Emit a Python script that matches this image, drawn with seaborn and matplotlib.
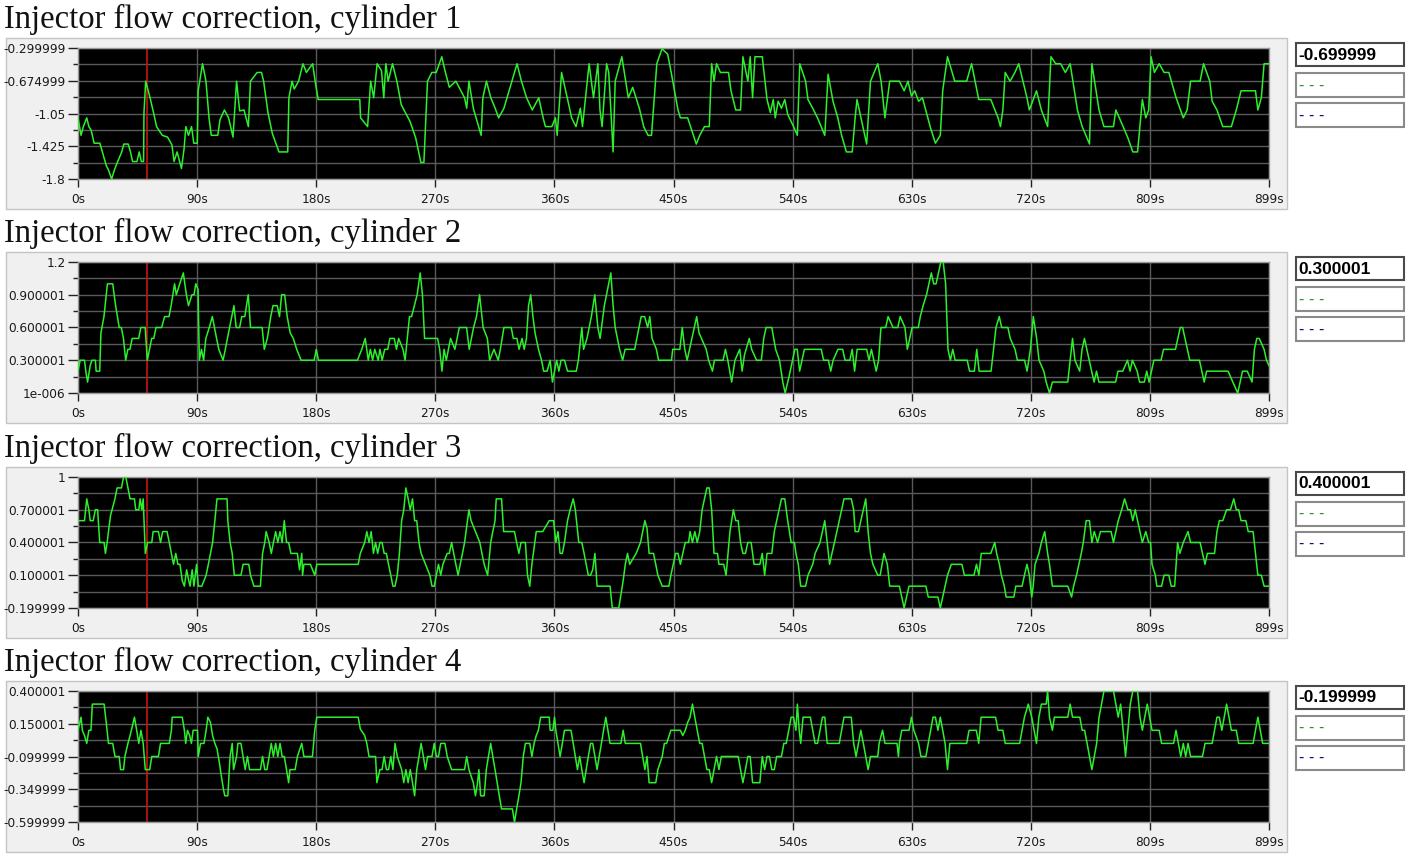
import matplotlib
matplotlib.use("Agg")
import matplotlib.pyplot as plt
import seaborn as sns
from matplotlib.patches import Rectangle

# ---- data (time in s, correction value) ----
titles = [
    "Injector flow correction, cylinder 1",
    "Injector flow correction, cylinder 2",
    "Injector flow correction, cylinder 3",
    "Injector flow correction, cylinder 4",
]
current_values = ["-0.699999", "0.300001", "0.400001", "-0.199999"]
x_tick_labels = ["0s", "90s", "180s", "270s", "360s", "450s", "540s", "630s", "720s", "809s", "899s"]
cursor_time = 52

y_ticks_1 = [-1.8, -1.425, -1.05, -0.674999, -0.299999]
y_labels_1 = ["-1.8", "-1.425", "-1.05", "-0.674999", "-0.299999"]
y_ticks_2 = [0.000001, 0.300001, 0.600001, 0.900001, 1.2]
y_labels_2 = ["1e-006", "0.300001", "0.600001", "0.900001", "1.2"]
y_ticks_3 = [-0.199999, 0.100001, 0.400001, 0.700001, 1.0]
y_labels_3 = ["-0.199999", "0.100001", "0.400001", "0.700001", "1"]
y_ticks_4 = [-0.599999, -0.349999, -0.099999, 0.150001, 0.400001]
y_labels_4 = ["-0.599999", "-0.349999", "-0.099999", "0.150001", "0.400001"]

t1 = [0, 2.3, 4.0, 6.6, 8.2, 9.9, 12.2, 16.5, 21.4, 23.1, 25.4, 27.4, 29.7, 33.0, 34.6, 37.9, 39.6,
      41.2, 44.5, 46.2, 47.8, 49.5, 49.8, 51.1, 54.4, 57.0, 59.3, 63.6, 67.6, 70.9, 72.5, 74.8, 78.1,
      80.1, 81.4, 83.4, 85.7, 87.4, 90.0, 90.7, 94.0, 96.6, 98.9, 100.6, 105.5, 107.2, 110.5, 113.7,
      117.0, 119.7, 122.0, 125.3, 128.6, 130.2, 135.2, 138.5, 140.1, 143.4, 146.7, 151.7, 158.3,
      159.2, 161.6, 163.2, 166.5, 169.8, 172.4, 177.1, 179.0, 181.3, 212.7, 213.3, 218.6, 220.9,
      223.2, 225.8, 229.1, 230.8, 232.4, 234.1, 237.4, 240.7, 244.0, 250.6, 254.9, 258.8, 261.1,
      263.8, 267.1, 270.4, 274.6, 277.0, 280.3, 285.2, 291.8, 293.4, 295.1, 298.4, 304.3, 305.6,
      308.3, 311.6, 314.9, 317.5, 321.5, 331.4, 334.7, 338.6, 342.9, 347.8, 351.1, 352.8, 357.7,
      360.4, 361.7, 365.0, 369.3, 372.6, 375.9, 379.2, 380.8, 385.8, 389.1, 392.4, 394.0, 395.6,
      399.0, 400.6, 402.2, 403.9, 405.5, 410.5, 415.4, 418.7, 423.7, 427.0, 430.3, 432.9, 436.9,
      440.8, 445.1, 448.0, 452.9, 454.7, 460.2, 464.5, 466.7, 469.3, 472.9, 476.5, 478.3, 480.1,
      482.0, 484.9, 491.0, 492.9, 496.5, 500.1, 501.9, 505.6, 507.4, 509.2, 511.0, 516.5, 520.1,
      522.6, 524.8, 526.3, 528.5, 531.0, 533.5, 535.7, 540.1, 543.0, 544.8, 549.2, 551.0, 554.6,
      558.2, 563.7, 566.2, 569.9, 573.5, 576.4, 580.0, 584.4, 586.6, 588.0, 595.3, 598.2, 603.7,
      606.2, 609.1, 612.7, 620.0, 623.6, 626.5, 629.1, 631.6, 634.5, 637.4, 643.6, 647.2, 650.9,
      652.7, 656.3, 661.8, 670.8, 674.5, 679.9, 689.0, 694.5, 696.3, 698.1, 699.9, 703.5, 707.2,
      710.1, 716.3, 718.1, 723.5, 727.2, 731.9, 734.4, 738.0, 741.7, 745.3, 748.9, 754.4, 758.0,
      763.5, 765.3, 770.7, 774.4, 781.6, 783.4, 788.9, 792.5, 796.2, 799.8, 803.4, 806.0, 808.2,
      810.0, 812.5, 816.1, 819.8, 823.4, 828.9, 834.3, 837.2, 839.8, 847.0, 849.6, 854.3, 856.1,
      859.7, 864.1, 870.6, 874.3, 877.9, 888.8, 890.6, 893.2, 895.3, 899.0]
v1 = [-1.10, -1.30, -1.20, -1.10, -1.20, -1.24, -1.39, -1.39, -1.65, -1.70, -1.80, -1.70, -1.61,
      -1.49, -1.40, -1.40, -1.49, -1.60, -1.60, -1.49, -1.60, -1.60, -1.04, -0.68, -0.87, -1.04,
      -1.20, -1.30, -1.32, -1.41, -1.60, -1.49, -1.68, -1.45, -1.20, -1.30, -1.20, -1.39, -1.39,
      -0.79, -0.48, -0.68, -1.10, -1.30, -1.30, -1.12, -1.01, -1.10, -1.32, -0.68, -1.02, -1.01,
      -1.20, -0.68, -0.58, -0.58, -0.68, -1.04, -1.28, -1.49, -1.49, -0.87, -0.68, -0.77, -0.68,
      -0.48, -0.58, -0.48, -0.68, -0.89, -0.89, -1.10, -1.20, -0.68, -0.87, -0.48, -0.56, -0.87,
      -0.48, -0.68, -0.48, -0.68, -0.95, -1.14, -1.33, -1.61, -1.61, -0.68, -0.58, -0.58, -0.40,
      -0.56, -0.75, -0.68, -0.87, -0.99, -0.68, -0.99, -1.30, -0.87, -0.68, -0.87, -0.99, -1.10,
      -0.99, -0.48, -0.68, -0.87, -1.01, -0.87, -1.10, -1.20, -1.20, -1.10, -1.30, -0.58, -0.87,
      -1.10, -1.20, -0.99, -1.20, -0.48, -0.87, -0.48, -1.01, -1.20, -0.48, -0.58, -1.01, -1.49,
      -0.68, -0.40, -0.87, -0.75, -0.99, -1.20, -1.30, -1.30, -0.48, -0.31, -0.37, -0.60, -1.01,
      -1.10, -1.10, -1.30, -1.40, -1.30, -1.20, -1.20, -0.48, -0.68, -0.48, -0.58, -0.58, -0.79,
      -1.01, -1.01, -0.40, -0.68, -0.40, -0.87, -0.40, -0.40, -0.89, -1.04, -0.89, -1.10, -0.91,
      -0.99, -0.89, -1.06, -1.20, -1.30, -0.48, -0.68, -0.89, -0.99, -1.10, -1.30, -0.60, -0.91,
      -1.10, -1.30, -1.49, -1.49, -1.10, -0.89, -1.40, -0.68, -0.48, -0.68, -1.10, -0.68, -0.68,
      -0.79, -0.68, -0.85, -0.79, -0.91, -0.87, -1.22, -1.39, -1.30, -0.79, -0.40, -0.68, -0.68,
      -0.48, -0.89, -0.89, -1.10, -1.20, -1.01, -0.58, -0.68, -0.58, -0.48, -0.87, -1.01, -0.79,
      -1.01, -1.20, -0.40, -0.48, -0.48, -0.58, -0.48, -1.01, -1.20, -1.40, -0.48, -1.01, -1.20,
      -1.20, -1.01, -1.20, -1.33, -1.49, -1.49, -0.89, -1.10, -1.01, -0.40, -0.58, -0.48, -0.58,
      -0.58, -0.87, -1.10, -1.01, -0.68, -0.68, -0.48, -0.68, -0.91, -1.01, -1.20, -1.20, -1.01,
      -0.79, -0.79, -1.01, -0.87, -0.48, -0.48]

t2 = [0, 1.6, 4.9, 5.9, 7.2, 9.2, 10.5, 13.1, 13.7, 16.4, 17.3, 19.6, 22.2, 26.2, 28.4, 31.1, 32.7,
      34.3, 36.0, 37.6, 39.2, 40.9, 45.8, 47.4, 50.7, 52.3, 54.0, 55.6, 57.2, 58.9, 63.1, 65.4, 68.7,
      70.3, 72.9, 74.2, 76.8, 79.5, 81.8, 83.4, 86.0, 87.6, 88.9, 90.6, 91.6, 93.2, 94.8, 96.5, 99.1,
      101.4, 103.0, 104.6, 106.3, 109.5, 111.2, 112.8, 116.1, 117.7, 119.4, 122.0, 123.6, 125.9,
      128.5, 130.2, 139.0, 140.6, 142.9, 145.5, 147.2, 150.4, 152.1, 153.7, 156.0, 157.9, 160.2,
      162.5, 165.1, 168.4, 178.2, 179.9, 181.5, 210.9, 214.2, 216.8, 219.1, 220.7, 222.4, 224.0,
      226.6, 227.9, 229.6, 231.5, 233.8, 235.4, 238.7, 240.4, 242.0, 245.3, 246.9, 250.2, 251.8,
      256.0, 258.3, 260.0, 261.6, 271.4, 273.0, 274.7, 276.3, 278.0, 279.6, 281.2, 284.5, 287.8,
      293.3, 295.3, 298.6, 300.8, 303.1, 305.8, 309.0, 310.7, 314.0, 317.2, 318.8, 321.5, 327.0,
      328.6, 331.3, 332.9, 335.2, 336.8, 338.5, 340.1, 341.7, 343.4, 345.0, 347.6, 349.9, 351.5,
      354.1, 356.4, 358.1, 359.7, 361.3, 363.0, 364.6, 367.2, 369.5, 376.1, 377.7, 380.3, 381.6,
      384.2, 387.5, 390.1, 392.4, 394.1, 397.3, 400.6, 402.2, 403.9, 405.5, 408.8, 411.1, 413.0,
      420.2, 421.8, 425.1, 427.7, 430.0, 431.6, 433.3, 436.6, 438.2, 448.0, 448.9, 454.3, 456.1,
      458.0, 459.8, 463.4, 465.2, 467.0, 468.8, 470.6, 474.2, 476.0, 478.9, 480.4, 486.9, 488.7,
      490.5, 493.4, 495.9, 499.5, 501.3, 503.1, 506.7, 508.5, 512.2, 515.8, 517.6, 519.4, 523.7,
      526.6, 529.5, 532.0, 533.8, 536.7, 539.3, 541.1, 542.9, 544.7, 546.5, 548.3, 561.0, 562.8,
      566.4, 568.2, 570.0, 573.6, 577.2, 579.0, 582.6, 584.4, 586.2, 588.1, 595.3, 597.1, 598.9,
      602.5, 604.3, 606.1, 609.7, 611.5, 615.2, 618.8, 620.6, 624.2, 626.0, 627.8, 629.6, 634.3,
      635.8, 637.9, 640.5, 642.3, 644.1, 645.9, 647.7, 649.5, 651.3, 653.1, 654.9, 656.7, 658.5,
      660.3, 662.1, 671.2, 673.0, 676.6, 678.4, 680.2, 689.2, 691.1, 692.9, 695.4, 697.2, 701.9,
      703.7, 707.3, 709.1, 714.5, 716.4, 718.9, 721.1, 723.6, 725.4, 729.0, 730.8, 733.3, 735.5,
      747.1, 748.9, 750.7, 752.5, 756.1, 757.9, 759.7, 761.5, 763.3, 765.1, 767.0, 768.8, 770.6,
      783.2, 785.0, 788.6, 792.2, 794.1, 795.9, 799.5, 801.3, 804.9, 806.7, 808.5, 810.3, 812.1,
      817.5, 819.4, 828.4, 830.2, 832.0, 833.8, 837.4, 839.2, 846.5, 848.3, 850.1, 851.9, 868.1,
      871.7, 875.4, 877.2, 879.0, 882.6, 886.2, 888.0, 889.8, 891.6, 895.3, 897.1, 899.0]
v2 = [0.2, 0.3, 0.3, 0.2, 0.1, 0.25, 0.3, 0.3, 0.2, 0.2, 0.55, 0.7, 1.0, 1.0, 0.8, 0.6, 0.6, 0.5,
      0.3, 0.4, 0.4, 0.5, 0.5, 0.6, 0.6, 0.3, 0.4, 0.5, 0.5, 0.6, 0.6, 0.7, 0.7, 0.8, 1.0, 0.9, 1.0,
      1.1, 0.9, 0.8, 0.9, 0.9, 1.0, 0.95, 0.3, 0.4, 0.3, 0.5, 0.6, 0.7, 0.6, 0.5, 0.4, 0.3, 0.4, 0.5,
      0.7, 0.8, 0.6, 0.6, 0.7, 0.7, 0.9, 0.6, 0.6, 0.4, 0.5, 0.7, 0.8, 0.8, 0.7, 0.9, 0.9, 0.7, 0.55,
      0.5, 0.4, 0.3, 0.3, 0.4, 0.3, 0.3, 0.4, 0.5, 0.3, 0.4, 0.3, 0.4, 0.3, 0.4, 0.3, 0.4, 0.4, 0.5,
      0.5, 0.4, 0.5, 0.4, 0.3, 0.7, 0.7, 0.9, 1.1, 0.9, 0.5, 0.5, 0.4, 0.2, 0.4, 0.3, 0.4, 0.5, 0.4,
      0.6, 0.6, 0.4, 0.6, 0.7, 0.9, 0.6, 0.5, 0.3, 0.4, 0.3, 0.4, 0.6, 0.6, 0.5, 0.5, 0.4, 0.5, 0.4,
      0.5, 0.8, 0.9, 0.7, 0.55, 0.4, 0.3, 0.2, 0.2, 0.3, 0.1, 0.2, 0.3, 0.2, 0.3, 0.3, 0.2, 0.2, 0.3,
      0.6, 0.4, 0.5, 0.7, 0.9, 0.6, 0.5, 0.8, 1.0, 1.1, 0.8, 0.6, 0.4, 0.3, 0.4, 0.4, 0.5, 0.7, 0.7,
      0.6, 0.7, 0.5, 0.4, 0.3, 0.3, 0.4, 0.4, 0.6, 0.4, 0.3, 0.5, 0.6, 0.7, 0.55, 0.5, 0.4, 0.3, 0.2,
      0.3, 0.3, 0.4, 0.3, 0.1, 0.3, 0.4, 0.2, 0.35, 0.5, 0.4, 0.3, 0.3, 0.5, 0.6, 0.6, 0.4, 0.3, 0.1,
      0.0, 0.15, 0.3, 0.4, 0.4, 0.2, 0.3, 0.4, 0.4, 0.3, 0.3, 0.2, 0.3, 0.4, 0.4, 0.3, 0.3, 0.4, 0.2,
      0.4, 0.4, 0.3, 0.4, 0.2, 0.3, 0.6, 0.6, 0.7, 0.6, 0.6, 0.7, 0.6, 0.4, 0.5, 0.6, 0.6, 0.7, 0.8,
      0.9, 1.0, 1.1, 1.0, 1.0, 1.1, 1.2, 1.2, 1.0, 0.4, 0.3, 0.4, 0.3, 0.3, 0.2, 0.2, 0.4, 0.2, 0.2,
      0.4, 0.6, 0.7, 0.6, 0.6, 0.5, 0.4, 0.3, 0.3, 0.2, 0.4, 0.7, 0.5, 0.3, 0.2, 0.1, 0.0, 0.1, 0.1,
      0.3, 0.5, 0.3, 0.2, 0.4, 0.5, 0.4, 0.3, 0.2, 0.1, 0.2, 0.1, 0.1, 0.2, 0.2, 0.3, 0.2, 0.3, 0.2,
      0.1, 0.1, 0.2, 0.1, 0.2, 0.3, 0.3, 0.4, 0.4, 0.5, 0.6, 0.6, 0.4, 0.3, 0.3, 0.2, 0.1, 0.2, 0.2,
      0.1, 0.0, 0.1, 0.2, 0.2, 0.1, 0.4, 0.5, 0.5, 0.4, 0.3, 0.25]

t3 = [0, 4.9, 6.6, 8.2, 9.2, 11.5, 13.1, 14.8, 16.4, 19.7, 20.7, 22.0, 23.0, 24.6, 27.9, 29.5, 32.8,
      34.4, 36.1, 37.7, 39.3, 42.6, 43.6, 45.9, 46.9, 48.2, 49.2, 50.8, 52.5, 55.7, 56.7, 60.7, 62.3,
      63.9, 67.2, 68.9, 70.5, 72.1, 73.8, 75.4, 77.0, 78.7, 80.3, 82.0, 83.6, 84.6, 86.2, 87.5, 89.5,
      90.8, 93.4, 95.1, 96.7, 98.4, 100.0, 101.6, 103.3, 104.9, 112.5, 113.1, 114.8, 116.4, 118.0,
      123.0, 124.6, 128.9, 130.2, 132.8, 137.7, 139.3, 141.0, 142.0, 144.3, 145.9, 147.5, 149.2,
      150.8, 152.5, 154.1, 155.7, 157.4, 159.0, 160.7, 165.6, 167.2, 168.9, 169.5, 170.5, 175.4,
      178.7, 180.3, 211.5, 213.1, 216.4, 218.0, 219.7, 221.3, 223.0, 224.6, 226.2, 227.9, 229.5,
      231.1, 232.8, 234.4, 236.1, 237.7, 239.3, 241.0, 242.6, 244.3, 245.9, 247.5, 249.2, 250.8,
      252.5, 254.1, 255.7, 257.4, 259.0, 262.3, 265.6, 267.2, 268.9, 270.5, 272.1, 273.8, 275.4,
      278.7, 280.3, 282.0, 283.6, 285.2, 286.9, 288.5, 290.2, 291.8, 295.1, 296.7, 300.0, 303.3,
      304.9, 306.6, 309.2, 311.5, 313.1, 314.8, 315.7, 319.7, 321.3, 329.5, 331.1, 332.8, 334.4,
      337.7, 339.3, 341.0, 342.6, 345.9, 350.8, 355.7, 359.0, 360.7, 362.3, 363.9, 365.6, 367.2,
      369.5, 371.5, 373.8, 375.4, 378.0, 380.3, 382.0, 383.6, 385.2, 386.9, 388.5, 390.2, 391.8,
      401.6, 403.3, 408.2, 411.5, 413.1, 414.8, 416.4, 421.3, 424.6, 427.9, 429.5, 431.1, 434.4,
      436.1, 437.7, 441.0, 446.0, 447.5, 449.3, 451.1, 452.9, 454.7, 456.5, 458.4, 460.9, 462.0,
      463.8, 465.6, 467.4, 469.3, 471.1, 472.9, 474.7, 476.5, 478.3, 480.1, 482.7, 483.8, 487.4,
      489.2, 492.1, 494.7, 496.5, 498.3, 500.1, 501.9, 503.8, 505.6, 508.1, 510.3, 514.7, 516.5,
      518.3, 520.1, 523.7, 525.6, 527.4, 529.2, 531.0, 533.5, 535.7, 538.3, 540.8, 541.9, 543.7,
      545.5, 549.2, 551.0, 554.6, 556.4, 560.1, 561.9, 563.7, 565.5, 567.3, 569.1, 571.0, 572.8,
      574.6, 576.4, 578.2, 583.7, 585.5, 586.6, 589.1, 590.9, 592.8, 594.6, 596.4, 598.2, 600.0,
      603.7, 605.5, 608.4, 610.9, 612.7, 620.0, 621.8, 623.6, 625.4, 627.3, 640.0, 641.8, 649.1,
      650.9, 652.7, 654.5, 656.3, 659.2, 667.2, 669.1, 676.3, 678.2, 680.0, 681.8, 689.0, 692.0,
      693.4, 695.5, 697.0, 699.2, 700.6, 706.4, 707.9, 712.6, 714.4, 716.3, 718.1, 719.9, 721.0,
      722.4, 725.3, 727.2, 729.7, 731.9, 733.3, 735.5, 747.1, 750.0, 751.5, 753.7, 755.5, 757.3,
      758.8, 761.0, 763.5, 765.3, 767.1, 769.6, 771.8, 779.8, 781.6, 783.4, 785.2, 787.8, 790.0,
      792.5, 794.4, 796.2, 798.0, 799.8, 801.6, 803.4, 806.0, 808.2, 809.6, 810.7, 813.2, 814.3,
      817.9, 819.8, 823.4, 825.2, 827.8, 830.0, 831.7, 834.3, 837.9, 839.8, 847.0, 848.8, 850.7,
      852.5, 857.9, 859.7, 861.5, 864.1, 867.0, 869.9, 872.4, 874.3, 876.1, 877.9, 881.5, 883.3,
      887.0, 888.8, 890.6, 893.2, 895.3, 899.0]
v3 = [0.6, 0.6, 0.8, 0.7, 0.6, 0.6, 0.7, 0.7, 0.4, 0.4, 0.3, 0.4, 0.5, 0.65, 0.8, 0.9, 0.9, 1.0,
      1.0, 0.9, 0.8, 0.8, 0.7, 0.7, 0.8, 0.7, 0.8, 0.3, 0.4, 0.4, 0.5, 0.5, 0.4, 0.5, 0.5, 0.4, 0.3,
      0.2, 0.3, 0.2, 0.2, 0.05, 0.0, 0.15, 0.05, 0.0, 0.15, 0.0, 0.2, 0.0, 0.0, 0.05, 0.1, 0.2, 0.3,
      0.4, 0.6, 0.8, 0.8, 0.6, 0.4, 0.3, 0.1, 0.1, 0.2, 0.2, 0.1, 0.0, 0.0, 0.3, 0.4, 0.5, 0.4, 0.3,
      0.4, 0.5, 0.4, 0.5, 0.4, 0.6, 0.4, 0.4, 0.3, 0.3, 0.15, 0.3, 0.1, 0.2, 0.2, 0.1, 0.2, 0.2, 0.3,
      0.4, 0.5, 0.4, 0.5, 0.3, 0.4, 0.3, 0.4, 0.4, 0.3, 0.3, 0.2, 0.1, 0.0, 0.0, 0.1, 0.3, 0.6, 0.7,
      0.9, 0.8, 0.7, 0.8, 0.6, 0.6, 0.4, 0.3, 0.2, 0.1, 0.0, 0.0, 0.1, 0.2, 0.1, 0.2, 0.3, 0.3, 0.4,
      0.3, 0.2, 0.1, 0.2, 0.3, 0.4, 0.7, 0.6, 0.5, 0.4, 0.3, 0.2, 0.1, 0.4, 0.5, 0.6, 0.8, 0.8, 0.5,
      0.5, 0.4, 0.3, 0.4, 0.4, 0.1, 0.0, 0.2, 0.5, 0.5, 0.6, 0.6, 0.4, 0.5, 0.3, 0.3, 0.4, 0.6, 0.7,
      0.8, 0.7, 0.4, 0.4, 0.3, 0.2, 0.1, 0.1, 0.15, 0.3, 0.0, 0.0, -0.2, -0.2, 0.05, 0.2, 0.3, 0.2,
      0.3, 0.4, 0.6, 0.53, 0.3, 0.3, 0.2, 0.1, 0.0, 0.0, 0.1, 0.2, 0.3, 0.3, 0.2, 0.3, 0.4, 0.4, 0.5,
      0.4, 0.5, 0.4, 0.5, 0.7, 0.8, 0.9, 0.9, 0.7, 0.3, 0.3, 0.2, 0.2, 0.1, 0.5, 0.7, 0.6, 0.6, 0.4,
      0.3, 0.3, 0.4, 0.4, 0.2, 0.2, 0.3, 0.1, 0.3, 0.3, 0.5, 0.6, 0.7, 0.8, 0.8, 0.6, 0.4, 0.4, 0.3,
      0.2, 0.0, 0.0, 0.1, 0.2, 0.3, 0.4, 0.5, 0.6, 0.4, 0.2, 0.3, 0.4, 0.5, 0.6, 0.7, 0.8, 0.8, 0.7,
      0.5, 0.5, 0.6, 0.7, 0.8, 0.5, 0.3, 0.2, 0.1, 0.1, 0.3, 0.2, 0.0, 0.0, -0.1, -0.2, -0.1, 0.0,
      0.0, -0.1, -0.1, -0.2, -0.1, 0.0, 0.1, 0.2, 0.2, 0.1, 0.1, 0.2, 0.1, 0.3, 0.3, 0.4, 0.3, 0.2,
      0.1, 0.0, -0.1, -0.1, 0.0, 0.0, 0.1, 0.2, 0.1, -0.1, 0.0, 0.2, 0.3, 0.4, 0.5, 0.3, 0.2, 0.0,
      0.0, -0.1, 0.0, 0.1, 0.2, 0.3, 0.4, 0.6, 0.6, 0.4, 0.5, 0.4, 0.5, 0.5, 0.4, 0.5, 0.6, 0.7, 0.8,
      0.7, 0.7, 0.6, 0.7, 0.6, 0.5, 0.4, 0.5, 0.4, 0.4, 0.2, 0.1, 0.0, 0.0, 0.1, 0.1, 0.0, 0.0, 0.4,
      0.3, 0.4, 0.5, 0.4, 0.4, 0.3, 0.2, 0.3, 0.3, 0.5, 0.6, 0.6, 0.7, 0.7, 0.8, 0.7, 0.7, 0.6, 0.6,
      0.5, 0.5, 0.3, 0.1, 0.1, 0.0, 0.0]

t4 = [0, 2.3, 3.3, 4.9, 6.6, 8.2, 9.8, 10.8, 19.7, 21.3, 23.0, 26.2, 27.9, 31.1, 32.1, 34.4, 35.4,
      37.7, 39.3, 41.0, 42.6, 44.3, 45.9, 47.5, 49.2, 50.8, 54.1, 55.7, 60.7, 62.3, 68.9, 70.5, 71.1,
      78.7, 80.3, 81.3, 82.6, 84.3, 85.6, 86.9, 90.2, 90.8, 92.5, 95.1, 96.7, 98.0, 100.0, 101.6,
      103.3, 104.9, 106.6, 108.2, 109.8, 110.8, 113.1, 114.8, 116.4, 117.4, 119.7, 120.7, 123.0,
      124.6, 126.2, 127.9, 129.5, 137.7, 139.3, 141.0, 142.6, 144.3, 145.9, 147.5, 149.2, 150.8,
      152.5, 154.1, 155.7, 157.4, 159.0, 160.0, 163.9, 165.6, 168.9, 170.5, 177.0, 178.7, 180.3,
      211.5, 213.1, 216.4, 218.0, 219.7, 224.6, 225.6, 227.9, 229.5, 231.1, 232.8, 234.4, 236.1,
      237.7, 239.3, 241.0, 244.3, 245.9, 247.5, 249.2, 250.8, 252.5, 254.1, 255.7, 257.4, 259.0,
      260.7, 262.3, 263.9, 267.2, 268.9, 270.5, 272.1, 273.8, 277.0, 278.7, 282.0, 291.8, 293.4,
      295.1, 298.4, 300.0, 301.6, 302.6, 303.9, 306.6, 308.2, 309.8, 311.5, 313.1, 314.8, 318.0,
      319.7, 327.9, 329.5, 331.1, 332.8, 334.4, 336.1, 337.7, 341.0, 342.6, 344.3, 345.9, 347.5,
      349.2, 355.7, 356.4, 358.4, 359.7, 360.7, 362.3, 363.9, 365.6, 367.2, 372.1, 373.8, 375.4,
      377.0, 378.7, 380.3, 382.0, 383.6, 385.2, 386.9, 388.5, 390.2, 391.8, 393.4, 395.1, 396.7,
      398.4, 400.0, 401.6, 409.8, 411.5, 413.1, 424.6, 426.2, 427.9, 429.5, 431.1, 436.1, 437.7,
      441.0, 442.6, 444.3, 447.5, 450.8, 454.7, 456.5, 458.4, 460.2, 462.0, 463.8, 465.6, 467.4,
      469.3, 471.1, 472.9, 474.7, 476.5, 478.3, 480.1, 482.0, 483.8, 485.6, 498.3, 500.1, 501.9,
      503.8, 505.6, 507.4, 509.2, 514.7, 516.5, 518.3, 520.1, 521.9, 523.7, 525.6, 527.4, 531.0,
      532.8, 534.6, 536.5, 538.3, 540.1, 541.9, 543.0, 544.4, 545.5, 547.3, 552.8, 554.6, 556.4,
      558.2, 560.1, 561.9, 563.7, 565.5, 574.6, 576.4, 578.2, 583.7, 585.5, 587.3, 589.1, 590.9,
      592.8, 594.6, 596.4, 598.2, 603.7, 604.7, 607.3, 609.1, 618.2, 619.3, 620.0, 621.8, 627.3,
      629.1, 630.9, 634.5, 636.3, 640.0, 641.8, 643.6, 645.4, 647.2, 649.1, 650.9, 652.7, 654.5,
      656.3, 658.1, 670.8, 672.6, 678.1, 679.9, 681.7, 692.6, 694.5, 698.1, 699.9, 710.8, 712.6,
      714.4, 717.3, 719.9, 721.7, 723.5, 725.3, 727.2, 730.8, 731.9, 733.3, 735.5, 737.0, 747.1,
      748.9, 750.7, 756.2, 758.0, 759.8, 761.7, 763.5, 765.3, 767.1, 768.9, 770.7, 772.6, 774.4,
      781.6, 783.4, 785.2, 787.0, 788.9, 790.7, 792.5, 794.3, 796.2, 799.8, 801.6, 803.4, 805.2,
      807.1, 808.9, 810.7, 816.1, 817.9, 827.0, 828.8, 830.6, 832.4, 834.3, 836.1, 837.9, 839.8,
      848.8, 850.7, 856.1, 857.9, 859.7, 861.5, 863.4, 865.2, 867.0, 868.8, 870.6, 874.3, 876.1,
      887.0, 888.8, 890.6, 892.4, 894.2, 899.0]
v4 = [0.1, 0.2, 0.1, 0.06, 0.0, 0.1, 0.1, 0.3, 0.3, 0.16, 0.0, 0.0, -0.1, -0.1, -0.2, -0.2, -0.1,
      0.0, 0.06, 0.13, 0.2, 0.1, 0.0, 0.1, 0.0, -0.2, -0.2, -0.1, -0.1, 0.0, 0.0, 0.1, 0.2, 0.2, 0.1,
      0.0, 0.1, 0.06, 0.0, 0.1, 0.1, -0.1, 0.0, 0.0, 0.1, 0.2, 0.16, 0.06, 0.0, -0.04, -0.14, -0.25,
      -0.35, -0.4, -0.4, -0.1, 0.0, -0.2, -0.1, 0.0, 0.0, -0.1, -0.2, -0.1, -0.2, -0.2, -0.1, -0.2,
      -0.2, -0.1, 0.0, -0.1, 0.0, -0.1, 0.0, -0.1, -0.1, -0.2, -0.3, -0.2, -0.2, -0.1, 0.0, -0.1,
      -0.1, 0.1, 0.2, 0.2, 0.11, 0.06, 0.0, -0.1, -0.1, -0.3, -0.2, -0.2, -0.1, -0.2, -0.2, -0.1,
      -0.2, 0.0, -0.1, -0.2, -0.3, -0.2, -0.3, -0.2, -0.3, -0.4, -0.2, -0.1, 0.0, -0.1, -0.2, -0.1,
      -0.1, 0.0, -0.1, -0.1, 0.0, 0.0, -0.1, -0.2, -0.2, -0.1, -0.2, -0.3, -0.4, -0.3, -0.2, -0.4,
      -0.4, -0.2, -0.1, 0.0, -0.1, -0.2, -0.4, -0.5, -0.5, -0.6, -0.5, -0.4, -0.3, -0.1, 0.0, 0.0,
      -0.1, 0.0, 0.06, 0.1, 0.2, 0.2, 0.1, 0.1, 0.2, 0.1, 0.0, -0.1, 0.0, 0.1, 0.1, 0.0, -0.1, -0.2,
      -0.1, -0.2, -0.3, -0.2, -0.1, 0.0, 0.0, -0.1, -0.2, -0.1, 0.0, 0.1, 0.2, 0.1, 0.0, 0.0, 0.1,
      0.0, 0.0, -0.1, -0.2, -0.1, -0.3, -0.3, -0.2, -0.1, 0.0, 0.0, 0.1, 0.1, 0.1, 0.06, 0.1, 0.16,
      0.2, 0.3, 0.2, 0.1, 0.0, 0.0, -0.1, -0.2, -0.2, -0.3, -0.2, -0.1, -0.2, -0.1, -0.1, -0.2, -0.3,
      -0.2, -0.1, -0.1, -0.3, -0.3, -0.1, -0.2, -0.1, -0.1, -0.2, -0.2, -0.1, -0.1, 0.0, 0.0, 0.1,
      0.2, 0.2, 0.1, 0.3, 0.1, 0.0, 0.2, 0.2, 0.1, 0.0, 0.0, 0.1, 0.2, 0.2, 0.0, 0.0, 0.1, 0.2, 0.2,
      0.0, -0.1, 0.0, 0.1, 0.0, -0.1, -0.2, -0.1, -0.1, 0.0, 0.1, 0.0, 0.0, -0.1, 0.0, 0.1, 0.1, 0.2,
      0.1, 0.0, -0.1, -0.1, 0.0, 0.1, 0.2, 0.2, 0.1, 0.2, 0.1, 0.0, -0.2, 0.0, 0.0, 0.1, 0.1, 0.0,
      0.2, 0.2, 0.1, 0.1, 0.0, 0.0, 0.1, 0.2, 0.3, 0.2, 0.1, 0.0, 0.2, 0.3, 0.3, 0.4, 0.2, 0.1, 0.2,
      0.2, 0.3, 0.2, 0.2, 0.1, 0.1, 0.0, -0.1, -0.2, -0.1, 0.0, 0.2, 0.3, 0.4, 0.4, 0.3, 0.2, 0.3,
      0.1, -0.1, 0.1, 0.3, 0.4, 0.4, 0.2, 0.1, 0.2, 0.3, 0.2, 0.1, 0.1, 0.0, 0.0, 0.1, 0.0, -0.1,
      0.0, -0.1, 0.0, -0.1, -0.1, 0.0, 0.0, 0.1, 0.2, 0.2, 0.1, 0.2, 0.3, 0.2, 0.1, 0.1, 0.0, 0.0,
      0.1, 0.2, 0.1, 0.0, 0.0]

series = [(t1, v1, y_ticks_1, y_labels_1),
          (t2, v2, y_ticks_2, y_labels_2),
          (t3, v3, y_ticks_3, y_labels_3),
          (t4, v4, y_ticks_4, y_labels_4)]

# ---- layout (pixel based, figure is 1412 x 860) ----
W, H = 1412, 860
fig = plt.figure(figsize=(W / 100, H / 100), dpi=100)
fig.patch.set_facecolor("white")
plt.rcParams["font.family"] = ["DejaVu Sans"]


def fig_rect(x0, y0, x1, y1, **kw):
    r = Rectangle((x0 / W, 1 - y1 / H), (x1 - x0) / W, (y1 - y0) / H,
                  transform=fig.transFigure, **kw)
    fig.add_artist(r)


frame_tops = [38, 252, 467, 681]
x_ticks = [899 * i / 10 for i in range(11)]

for i, (t, v, yt, yl) in enumerate(series):
    ft = frame_tops[i]

    # title
    fig.text(4 / W, 1 - (ft - 10) / H, titles[i], fontsize=23.5, va="baseline", ha="left",
             family=["Liberation Serif", "DejaVu Serif"], color="#111111")

    # light grey chart frame
    fig_rect(6, ft, 1287, ft + 171, facecolor="#f0f0f0", edgecolor="#c4c4c4", lw=1, zorder=0)

    # plot area
    x0, y0, x1, y1 = 78, ft + 10, 1269, ft + 141
    ax = fig.add_axes([x0 / W, 1 - y1 / H, (x1 - x0) / W, (y1 - y0) / H])
    ax.set_facecolor("black")
    sns.lineplot(x=t, y=v, ax=ax, color="#2cf02c", linewidth=1.1, estimator=None,
                 sort=False, legend=False, zorder=3)
    ax.axvline(cursor_time, color="#c81414", lw=1.2, zorder=2)

    ax.set_xlim(0, 899)
    ax.set_ylim(yt[0], yt[-1])
    ax.set_xticks(x_ticks)
    ax.set_xticklabels(x_tick_labels)
    ax.set_yticks(yt)
    ax.set_yticklabels(yl)
    ax.set_yticks([(yt[k] + yt[k + 1]) / 2 for k in range(4)], minor=True)
    ax.set_xlabel("")
    ax.set_ylabel("")
    ax.set_axisbelow(True)
    ax.grid(True, axis="x", which="major", color="#5a5a5a", lw=1)
    ax.grid(True, axis="y", which="both", color="#5a5a5a", lw=1)

    ax.tick_params(axis="both", which="major", direction="out", width=1,
                   color="#222222", labelsize=8.7, labelcolor="#1a1a1a")
    ax.tick_params(axis="x", length=6, pad=4)
    ax.tick_params(axis="y", length=7, pad=2)
    ax.tick_params(axis="y", which="minor", direction="out", length=3.5, width=1, color="#222222")
    for s in ax.spines.values():
        s.set_color("#9a9a9a")
        s.set_linewidth(1)

    # value boxes at the right
    bx0, bx1 = 1296, 1404
    fig_rect(bx0, ft + 5, bx1, ft + 28, facecolor="white", edgecolor="#4a4a4a", lw=1.5)
    fig_rect(bx0, ft + 35, bx1, ft + 59, facecolor="white", edgecolor="#8a8a8a", lw=1.5)
    fig_rect(bx0, ft + 65, bx1, ft + 89, facecolor="white", edgecolor="#8a8a8a", lw=1.5)
    fig.text((bx0 + 2) / W, 1 - (ft + 17) / H, current_values[i], fontsize=12.5,
             fontweight="bold", va="center", ha="left", color="black",
             family=["Liberation Sans", "DejaVu Sans"])
    fig.text((bx0 + 3) / W, 1 - (ft + 47) / H, "- - -", fontsize=10.5, va="center", ha="left",
             color="#2f8f2f")
    fig.text((bx0 + 3) / W, 1 - (ft + 77) / H, "- - -", fontsize=10.5, va="center", ha="left",
             color="#10107a")

fig.savefig("out.png", dpi=100, facecolor="white")
